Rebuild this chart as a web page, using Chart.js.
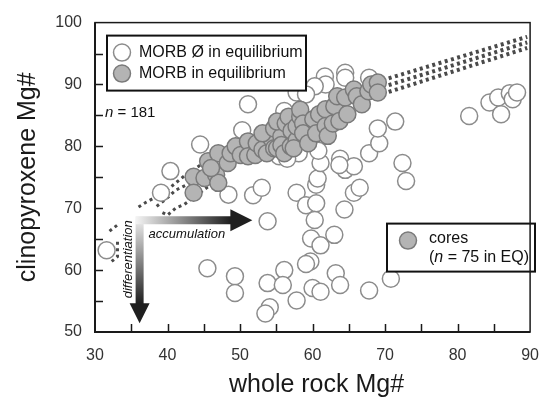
<!DOCTYPE html>
<html><head><meta charset="utf-8">
<script src="https://cdn.jsdelivr.net/npm/chart.js@4.4.0/dist/chart.umd.min.js"></script>
<style>html,body{margin:0;padding:0;background:#fff;overflow:hidden}canvas{display:block}</style>
</head><body>
<canvas id="c" width="553" height="399"></canvas>
<script>
// ---- data ----
const xTickLabels = [30, 40, 50, 60, 70, 80, 90];
const yTickLabels = [50, 60, 70, 80, 90, 100];

// MORB not in equilibrium (open circles)
const openX = [31.6,44.5,40.4,39.1,45.5,49.3,49.3,53.8,56.1,55.9,54.1,53.5,57.8,59.8,61.1,63.0,59.7,59.1,63.2,63.8,60.0,61.1,67.8,48.4,51.8,53.0,53.8,57.8,59.1,60.5,60.5,60.7,60.3,64.4,61.1,58.1,63.8,64.5,65.7,65.7,66.5,55.4,63.7,67.8,69.2,72.4,72.9,70.8,81.6,84.4,85.6,86.0,87.2,87.6,88.2,61.7,64.5,64.5,67.8,61.8,60.3,57.8,69.0,71.4,51.1,59.1,56.1,50.3,60.8,56.5];
const openY = [63.2,80.3,76.0,72.5,60.3,59.0,56.3,57.9,60.0,57.6,54.0,53.0,55.1,65.1,64.0,65.7,61.4,61.0,59.5,57.6,57.1,56.5,56.7,72.2,72.1,73.3,67.9,72.5,70.5,70.8,73.8,74.8,68.1,69.8,77.3,78.9,78.0,76.2,76.8,72.5,73.3,78.4,77.0,78.9,80.5,77.3,74.4,58.6,84.9,87.1,87.9,85.2,88.6,87.6,88.7,91.3,91.9,91.1,91.1,90.0,89.7,88.7,82.9,84.0,86.8,88.4,85.7,82.6,79.3,78.0];

// MORB in equilibrium (filled circles, cores)
const coreX = [43.6,43.6,45.1,46.7,45.6,47.0,47.0,46.0,48.3,48.7,49.4,50.1,51.1,51.1,52.1,52.3,53.1,53.7,54.3,53.1,54.7,54.7,55.1,55.7,55.7,56.1,57.0,55.1,56.3,56.7,57.1,57.8,57.4,57.8,58.3,58.3,58.7,58.7,59.4,60.1,60.5,60.9,61.8,61.8,62.1,62.8,63.0,63.4,63.7,64.5,64.8,65.7,66.1,66.8,67.7,68.1,69.0,69.0];
const coreY = [75.1,72.5,74.9,75.4,77.6,78.9,74.1,76.5,77.3,78.9,80.0,78.6,80.8,78.4,78.6,80.5,79.5,78.9,81.3,82.1,82.9,79.7,79.7,81.6,80.2,78.9,80.0,84.0,83.7,84.8,82.5,81.0,79.7,83.2,84.8,85.9,83.7,82.1,80.5,84.4,82.1,85.2,86.0,83.3,81.7,83.7,86.5,88.1,84.1,87.9,85.2,89.2,88.1,86.8,88.9,90.0,90.3,88.7];

// dotted trend lines
const bandX = [70.5, 89.6];
const bandTopY = [91.0, 97.7];
const bandMidY = [89.9, 96.8];
const bandLowY = [88.8, 95.9];
const lowTrend1X = [36.0, 37.1, 39.0, 40.3, 42.3, 44.3, 46.5];
const lowTrend1Y = [70.2, 71.0, 72.2, 73.3, 75.2, 76.8, 78.5];
const lowTrend2X = [38.5, 40.0, 41.1, 43.0, 45.0];
const lowTrend2Y = [70.3, 71.7, 72.9, 74.0, 75.5];
const lowTrend3X = [39.3, 40.0, 41.1, 42.3, 45.4, 48.0];
const lowTrend3Y = [69.3, 68.9, 70.0, 70.6, 73.3, 75.5];
const leftTopX = [32.0, 33.1];
const leftTopY = [66.3, 67.3];
const leftLowX = [33.1, 33.1, 32.0];
const leftLowY = [64.6, 62.2, 61.1];

// arrow anchors (data units)
const arrowOrigin = [35.6, 68.7];
const accumulationTipX = 51.7;
const differentiationTipY = 51.4;

// ---- build ----
const zip = (xs, ys) => xs.map((v, i) => ({x: v, y: ys[i]}));
const FONT = "'Liberation Sans', Arial, Helvetica, sans-serif";
const dotted = (xs, ys, w) => ({
  type: 'line', data: zip(xs, ys), showLine: true, pointRadius: 0,
  borderColor: '#4a4a4a', borderWidth: w || 3, borderDash: [3, 3.5], borderCapStyle: 'butt',
  fill: false, order: 3, tension: 0
});

const deco = {
  id: 'deco',
  afterDatasetsDraw(chart) {
    const {ctx, chartArea: a, scales: {x, y}} = chart;
    ctx.save();
    // arrows
    const cx = x.getPixelForValue(arrowOrigin[0]);
    const cy = y.getPixelForValue(arrowOrigin[1]);
    const hx = x.getPixelForValue(accumulationTipX);
    const vy = y.getPixelForValue(differentiationTipY);
    const t = 8, hw = 11, hl = 22, vhw = 10, vhl = 20;
    // vertical arrow
    const cxm = cx + t / 2;
    let g = ctx.createLinearGradient(0, cy, 0, vy - vhl);
    g.addColorStop(0, '#f4f4f4'); g.addColorStop(1, '#1f1f1f');
    ctx.fillStyle = g;
    ctx.beginPath();
    ctx.moveTo(cx, cy); ctx.lineTo(cx + t, cy); ctx.lineTo(cx + t, vy - vhl);
    ctx.lineTo(cxm + vhw, vy - vhl); ctx.lineTo(cxm, vy); ctx.lineTo(cxm - vhw, vy - vhl);
    ctx.lineTo(cx, vy - vhl); ctx.closePath(); ctx.fill();
    // horizontal arrow
    const cym = cy + t / 2;
    g = ctx.createLinearGradient(cx, 0, hx - hl, 0);
    g.addColorStop(0, '#f4f4f4'); g.addColorStop(1, '#1f1f1f');
    ctx.fillStyle = g;
    ctx.beginPath();
    ctx.moveTo(cx, cy); ctx.lineTo(hx - hl, cy); ctx.lineTo(hx - hl, cym - hw);
    ctx.lineTo(hx, cym); ctx.lineTo(hx - hl, cym + hw); ctx.lineTo(hx - hl, cy + t);
    ctx.lineTo(cx, cy + t); ctx.closePath(); ctx.fill();
    // arrow labels
    ctx.fillStyle = '#111';
    ctx.font = 'italic 13px ' + FONT;
    ctx.textAlign = 'left'; ctx.textBaseline = 'middle';
    ctx.fillText('accumulation', cx + 13, cy + 18);
    ctx.save();
    ctx.translate(cx - 7, cy + 43);
    ctx.rotate(-Math.PI / 2);
    ctx.textAlign = 'center';
    ctx.fillText('differentiation', 0, 0);
    ctx.restore();

    // n = 181
    ctx.font = 'italic 15px ' + FONT;
    ctx.textAlign = 'left';
    const ny = 113;
    ctx.fillText('n', a.left + 10, ny);
    const nw = ctx.measureText('n').width;
    ctx.font = '15px ' + FONT;
    ctx.fillText(' = 181', a.left + 10 + nw, ny);

    // legend 1
    const drawCircle = (px, py, filled) => {
      ctx.beginPath(); ctx.arc(px, py, 8.5, 0, Math.PI * 2);
      ctx.fillStyle = filled ? '#b4b4b4' : '#ffffff'; ctx.fill();
      ctx.lineWidth = 1.5; ctx.strokeStyle = filled ? '#7a7a7a' : '#8c8c8c'; ctx.stroke();
    };
    let bx = a.left + 12, by = a.top + 13, bw = 199, bh = 55;
    ctx.fillStyle = '#fff'; ctx.fillRect(bx, by, bw, bh);
    ctx.lineWidth = 2; ctx.strokeStyle = '#111'; ctx.strokeRect(bx, by, bw, bh);
    drawCircle(bx + 15, by + 17, false);
    drawCircle(bx + 15, by + 38, true);
    ctx.fillStyle = '#111'; ctx.font = '16px ' + FONT; ctx.textBaseline = 'middle';
    ctx.fillText('MORB \u00D8 in equilibrium', bx + 32, by + 17);
    ctx.fillText('MORB in equilibrium', bx + 32, by + 38);

    // legend 2
    bx = a.left + 292; by = a.top + 201; bw = 148; bh = 48;
    ctx.fillStyle = '#fff'; ctx.fillRect(bx, by, bw, bh);
    ctx.lineWidth = 2; ctx.strokeStyle = '#111'; ctx.strokeRect(bx, by, bw, bh);
    drawCircle(bx + 21, by + 17, true);
    ctx.fillStyle = '#111'; ctx.font = '16px ' + FONT;
    ctx.fillText('cores', bx + 42, by + 15);
    let tx = bx + 42;
    ctx.fillText('(', tx, by + 34); tx += ctx.measureText('(').width;
    ctx.font = 'italic 16px ' + FONT;
    ctx.fillText('n', tx, by + 34); tx += ctx.measureText('n').width;
    ctx.font = '16px ' + FONT;
    ctx.fillText(' = 75 in EQ)', tx, by + 34);
    ctx.restore();
  },
  afterDraw(chart) {
    const {ctx, chartArea: a, scales: {x, y}} = chart;
    ctx.save();
    // frame
    ctx.strokeStyle = '#1a1a1a';
    ctx.lineWidth = 1.5;
    ctx.strokeRect(a.left, a.top, a.right - a.left, a.bottom - a.top);
    ctx.lineWidth = 2;
    ctx.beginPath();
    ctx.moveTo(a.left, a.top); ctx.lineTo(a.left, a.bottom); ctx.lineTo(a.right, a.bottom);
    ctx.stroke();
    // inward ticks every 5
    ctx.lineWidth = 1.5;
    ctx.beginPath();
    for (let v = 35; v < 90; v += 5) {
      const px = Math.round(x.getPixelForValue(v)) + 0.5;
      ctx.moveTo(px, a.bottom); ctx.lineTo(px, a.bottom - 8);
    }
    for (let v = 55; v < 100; v += 5) {
      const py = Math.round(y.getPixelForValue(v)) + 0.5;
      ctx.moveTo(a.left, py); ctx.lineTo(a.left + 8, py);
    }
    ctx.stroke();
    // axis titles
    ctx.fillStyle = '#1a1a1a';
    ctx.font = '25px ' + FONT;
    ctx.textAlign = 'center'; ctx.textBaseline = 'alphabetic';
    ctx.fillText('whole rock Mg#', (a.left + a.right) / 2 + 4, 392);
    ctx.save();
    ctx.translate(35, (a.top + a.bottom) / 2);
    ctx.rotate(-Math.PI / 2);
    ctx.fillText('clinopyroxene Mg#', 0, 0);
    ctx.restore();
    ctx.restore();
  }
};

new Chart(document.getElementById('c'), {
  type: 'scatter',
  data: {
    datasets: [
      {data: zip(coreX, coreY), backgroundColor: '#b4b4b4', borderColor: '#7a7a7a', borderWidth: 1.5, pointRadius: 8.5, order: 0},
      {data: zip(openX, openY), backgroundColor: '#ffffff', borderColor: '#8c8c8c', borderWidth: 1.5, pointRadius: 8.5, order: 1},
      dotted(bandX, bandTopY, 4), dotted(bandX, bandMidY, 4), dotted(bandX, bandLowY, 4),
      dotted(lowTrend1X, lowTrend1Y), dotted(lowTrend2X, lowTrend2Y), dotted(lowTrend3X, lowTrend3Y),
      dotted(leftTopX, leftTopY), dotted(leftLowX, leftLowY)
    ]
  },
  options: {
    responsive: false, animation: false, devicePixelRatio: 1,
    layout: {padding: {top: 17, right: 9, left: 0, bottom: 0}},
    plugins: {legend: {display: false}, tooltip: {enabled: false}},
    scales: {
      x: {
        type: 'linear', min: 30, max: 90,
        afterBuildTicks: s => { s.ticks = xTickLabels.map(v => ({value: v})); },
        ticks: {color: '#333', font: {size: 16, family: FONT}, padding: 14, maxRotation: 0, autoSkip: false},
        grid: {display: false, drawTicks: false}, border: {display: false},
        afterFit: s => { s.height = 67; }
      },
      y: {
        type: 'linear', min: 50, max: 100,
        afterBuildTicks: s => { s.ticks = yTickLabels.map(v => ({value: v})); },
        ticks: {color: '#333', font: {size: 16, family: FONT}, padding: 13, autoSkip: false},
        grid: {display: false, drawTicks: false}, border: {display: false},
        afterFit: s => { s.width = 95; }
      }
    }
  },
  plugins: [deco]
});
</script>
</body></html>
